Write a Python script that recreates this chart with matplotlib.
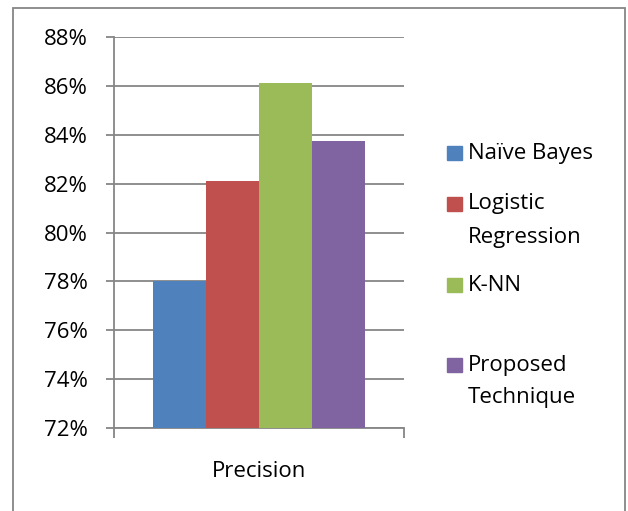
import matplotlib
matplotlib.use("Agg")
import matplotlib.pyplot as plt
from matplotlib.patches import Rectangle

plt.rcParams["font.family"] = ["Open Sans", "DejaVu Sans"]

# Precision of each classifier
methods = ["Naïve Bayes", "Logistic\nRegression", "K-NN", "Proposed\nTechnique"]
precision = [0.780, 0.821, 0.861, 0.8375]
colors = ["#4F81BD", "#C0504D", "#9BBB59", "#8064A2"]
category = "Precision"
yticks = [0.72, 0.74, 0.76, 0.78, 0.80, 0.82, 0.84, 0.86, 0.88]

W, H = 628, 511
fig = plt.figure(figsize=(W / 100, H / 100), dpi=100)
fig.patch.set_facecolor("white")

grey = "#868686"
fs = 16

# outer chart frame (bottom edge runs off the image)
fig.add_artist(Rectangle((13 / W, -0.05), (625 - 13) / W, 1.05 - 8 / H,
                         transform=fig.transFigure, fill=False,
                         edgecolor=grey, linewidth=1.3))

ax = fig.add_axes([114 / W, 83 / H, (404 - 114) / W, (474 - 83) / H])

w = 0.182
offsets = [(i - (len(precision) - 1) / 2) * w for i in range(len(precision))]
for off, val, c, name in zip(offsets, precision, colors, methods):
    ax.bar(off, val - 0.72, bottom=0.72, width=w, color=c, label=name, zorder=3)

ax.set_xlim(-0.5, 0.5)
ax.set_ylim(0.72, 0.88)
ax.set_yticks(yticks)
ax.set_yticklabels([f"{round(t * 100)}%" for t in yticks])
ax.yaxis.grid(True, color=grey, linewidth=1.3, zorder=0)
ax.set_axisbelow(True)

ax.set_xticks([0])
ax.set_xticklabels([category])
ax.set_xticks([-0.5, 0.5], minor=True)
ax.tick_params(axis="x", which="major", length=0, pad=24, labelsize=fs)
ax.tick_params(axis="x", which="minor", length=7, width=1.3, color=grey, direction="out")
ax.tick_params(axis="y", length=6, width=1.3, color=grey, pad=13, labelsize=fs)

for s in ["top", "right"]:
    ax.spines[s].set_visible(False)
for s in ["left", "bottom"]:
    ax.spines[s].set_color(grey)
    ax.spines[s].set_linewidth(1.3)

# legend entries laid out down the right side, one text line at a time
legend_y = [153, 204, 285, 365]
line_step = 33
for name, c, y in zip(methods, colors, legend_y):
    fig.add_artist(Rectangle((447 / W, 1 - (y + 7) / H), 15 / W, 14 / H,
                             transform=fig.transFigure, color=c))
    for k, line in enumerate(name.split("\n")):
        fig.text(468 / W, 1 - (y + k * line_step) / H, line, fontsize=fs,
                 va="center", ha="left")

fig.savefig("out.png", dpi=100)
